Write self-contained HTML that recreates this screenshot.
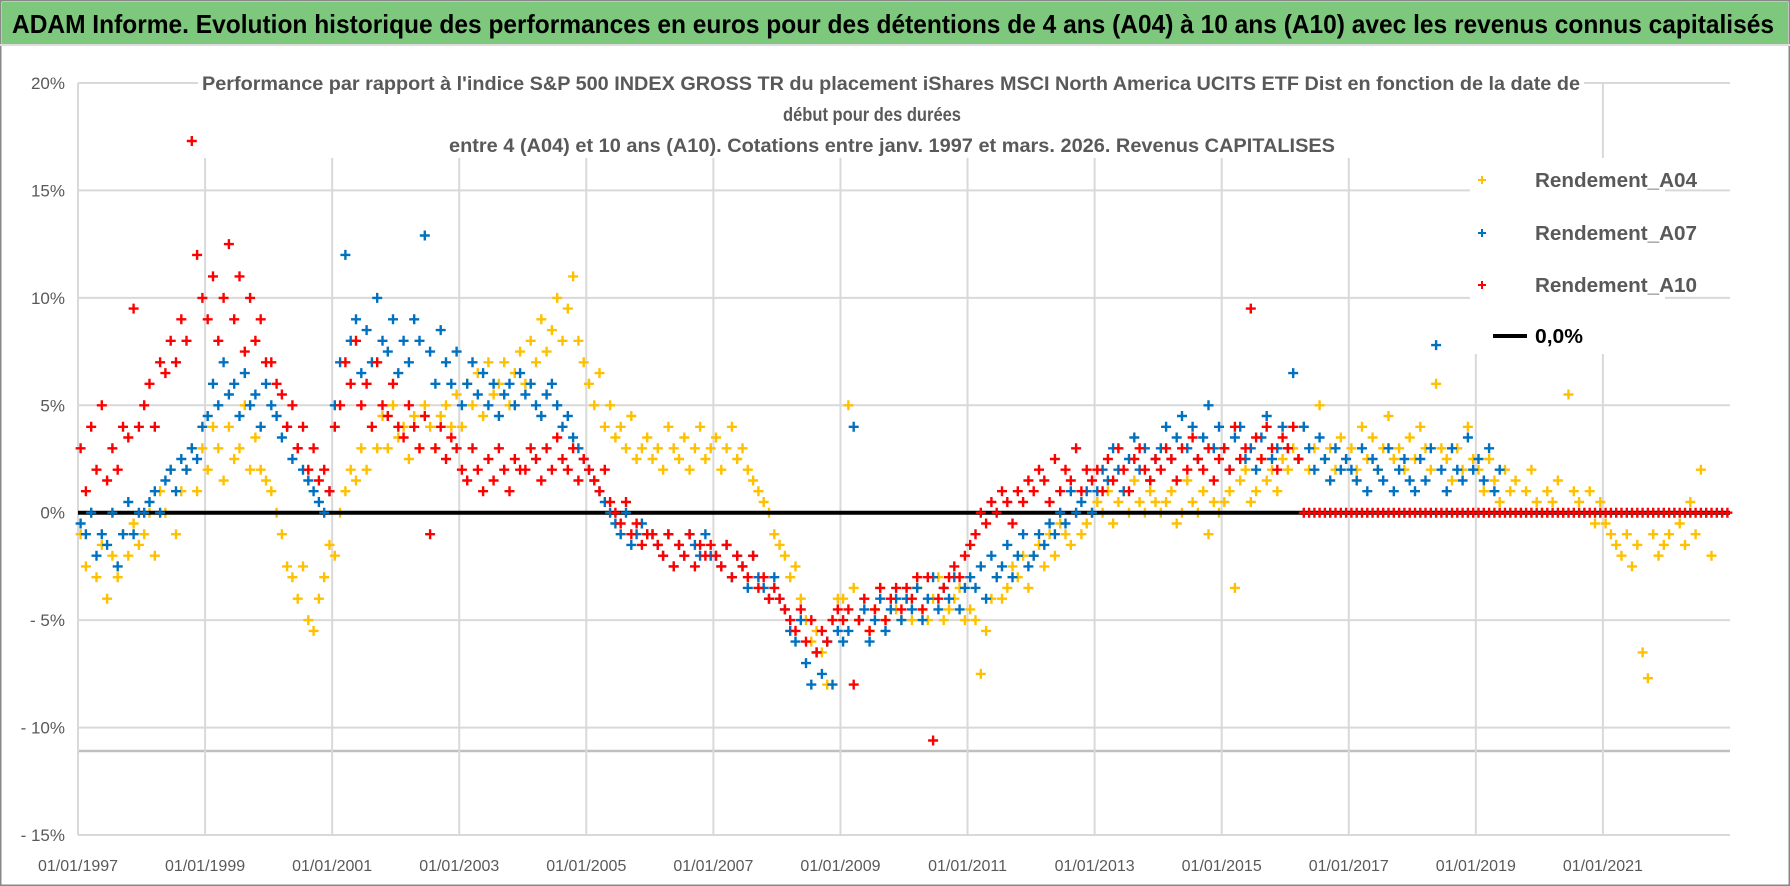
<!DOCTYPE html>
<html><head><meta charset="utf-8"><style>
html,body{margin:0;padding:0;background:#fff;}
svg{display:block;font-family:"Liberation Sans Narrow","Liberation Sans",sans-serif;}
</style></head><body>
<svg id="chart" width="1790" height="886" viewBox="0 0 1790 886" xmlns="http://www.w3.org/2000/svg">
<rect x="0" y="0" width="1790" height="886" fill="#fff" stroke="#888" stroke-width="3"/>
<rect x="2" y="2" width="1786" height="42" fill="#7DC87D"/>
<text x="12" y="33" font-size="26" font-weight="bold" fill="#000" textLength="1762" lengthAdjust="spacingAndGlyphs">ADAM Informe. Evolution historique des performances en euros pour des détentions de 4 ans (A04) à 10 ans (A10) avec les revenus connus capitalisés</text>
<line x1="0" y1="45" x2="1790" y2="45" stroke="#ddd" stroke-width="2"/>
<g id="grid"></g>
<g id="axes"></g>
<g id="series"></g>
<g fill="#595959" font-weight="bold" font-size="19">
<rect x="198" y="64" width="1386" height="94" fill="#fff"/>
<text x="202" y="90" textLength="1378" lengthAdjust="spacingAndGlyphs">Performance par rapport à l'indice S&amp;P 500 INDEX GROSS TR  du placement iShares MSCI North America UCITS ETF Dist en fonction de la date de</text>
<text x="783" y="121" textLength="178" lengthAdjust="spacingAndGlyphs">début pour des durées</text>
<text x="449" y="152" textLength="886" lengthAdjust="spacingAndGlyphs">entre 4 (A04) et 10 ans (A10). Cotations entre janv. 1997 et mars. 2026. Revenus CAPITALISES</text>
</g>
<g font-size="20" font-weight="bold" fill="#595959">
<rect x="1470" y="158" width="195" height="196" fill="#fff"/>
<g><path d="M1478 180h8M1482 176v8" stroke="#FFC000" stroke-width="2"/><text x="1535" y="187" textLength="162" lengthAdjust="spacingAndGlyphs">Rendement_A04</text></g>
<g><path d="M1478 233h8M1482 229v8" stroke="#0070C0" stroke-width="2"/><text x="1535" y="240" textLength="162" lengthAdjust="spacingAndGlyphs">Rendement_A07</text></g>
<g><path d="M1478 285h8M1482 281v8" stroke="#FF0000" stroke-width="2"/><text x="1535" y="292" textLength="162" lengthAdjust="spacingAndGlyphs">Rendement_A10</text></g>
<g><line x1="1493" y1="336" x2="1527" y2="336" stroke="#000" stroke-width="4"/><text x="1535" y="343" fill="#000" textLength="48" lengthAdjust="spacingAndGlyphs">0,0%</text></g>
</g>
</svg>
<script>
const yTicks = [20, 15, 10, 5, 0, -5, -10, -15];
const yTickLabels = ["20%", "15%", "10%", "5%", "0%", "- 5%", "- 10%", "- 15%"];
const xTickYears = [1997, 1999, 2001, 2003, 2005, 2007, 2009, 2011, 2013, 2015, 2017, 2019, 2021];
const xTickLabels = ["01/01/1997","01/01/1999","01/01/2001","01/01/2003","01/01/2005","01/01/2007","01/01/2009","01/01/2011","01/01/2013","01/01/2015","01/01/2017","01/01/2019","01/01/2021"];
const seriesStartYear = 1997;
const rendementA04 = [
-1,-2.5,0,-3,-1.5,-4,-2,-3,-1,-2,-0.5,-1.5,
-1,0,-2,1,0,2,-1,1,2,3,1,3,
2,4,3,1.5,4,2.5,3,5,2,3.5,2,1.5,
1,0,-1,-2.5,-3,-4,-2.5,-5,-5.5,-4,-3,-1.5,
-2,0,1,2,1.5,3,2,4,3,4.5,3,5,
3.5,4,2.5,4.5,3,5,4,3,4.5,5,4,5.5,
4,6,5,6.5,4.5,7,5.5,6,7,5,6.5,7.5,
6,8,7,9,7.5,8.5,10,8,9.5,11,8,7,
6,5,6.5,4,5,3.5,4,3,4.5,2.5,3,3.5,
2.5,3,2,4,3,2.5,3.5,2,3,4,2.5,3,
3.5,2,3,4,2.5,3,2,1.5,1,0.5,0,-1,
-1.5,-2,-3,-2.5,-4,-5,-6,-5.5,-6.5,-8,-5,-4,
-4,5,-3.5,-5,-4,-5.5,-4.5,-3.5,-5,-4,-4.5,-5,
-4,-5,-3.5,-4.5,-5,-4,-3,-5,-4.5,-4,-3.5,-5,
-4.5,-5,-7.5,-5.5,-4,-3,-4,-3.5,-2.5,-3,-2,-3.5,
-2,-1.5,-2.5,-1,-2,-0.5,-1,-1.5,0,-1,-0.5,0,
0.5,0,1,-0.5,0.5,1,0,1.5,0.5,0,1,0.5,
0,0.5,1,-0.5,0,1.5,0.5,0,1,-1,0.5,0,
0.5,1,-3.5,1.5,2,0.5,1,2.5,1.5,2,1,2.5,
2,3,2.5,4,2,3,5,2.5,3,2,3.5,2.5,
3,2,4,2.5,3.5,2,3,4.5,2.5,3,2,3.5,
2.5,4,3,2,6,3,2.5,1.5,3,2,4,2.5,
2,1,2.5,1.5,0.5,2,1,1.5,0,1,2,0.5,
0,1,0.5,1.5,0,5.5,1,0.5,0,1,-0.5,0.5,
-0.5,-1,-1.5,-2,-1,-2.5,-1.5,-6.5,-7.7,-1,-2,-1.5,
-1,0,-0.5,-1.5,0.5,-1,2,0,-2];
const rendementA07 = [
-0.5,-1,0,-2,-1,-1.5,0,-2.5,-1,0.5,-1,0,
0,0.5,1,0,1.5,2,1,2.5,2,3,2.5,4,
4.5,6,5,7,5.5,6,4.5,6.5,5,5.5,4,6,
5,4.5,3.5,4,2.5,3,2,1.5,1,0.5,0,1,
5,7,12,8,9,6.5,8.5,7,10,8,7.5,9,
6.5,8,7,9,8,12.9,7.5,6,8.5,7,6,7.5,
5,6,7,5.5,6.5,5,6,4.5,5.5,6,5,6.5,
5.5,6,5,4.5,5.5,6,5,4,4.5,3.5,3,2.5,
2,1.5,1,0.5,0,-0.5,-1,0,-1.5,-1,-0.5,-1,
-1,-1.5,-2,-1,-2.5,-1.5,-2,-1,-1.5,-2,-1,-2,
-2,-2.5,-1.5,-3,-2,-2.5,-3.5,-2,-3,-3.5,-4,-3,
-4,-4.5,-5.5,-6,-5,-7,-8,-6.5,-7.5,-6,-8,-5.5,
-6,-5.5,4,-5,-4.5,-6,-5,-4,-5.5,-4.5,-4,-5,
-4,-4.5,-3.5,-5,-4,-3,-4.5,-3.5,-4,-3,-4.5,-3.5,
-3,-3.5,-2.5,-4,-2,-3,-2.5,-1.5,-3,-2,-1,-2.5,
-2,-1,-1.5,-0.5,-1,0,-0.5,1,0,0.5,1,0,
1,2,1.5,3,2,1,2.5,3.5,2,3,1.5,2.5,
3,4,2.5,3.5,4.5,3,4,2.5,3.5,5,3,4,
3,2,3.5,4,2.5,3,2,3.5,4.5,2.5,3,4,
3,6.5,2.5,4,3,2,3.5,2.5,1.5,3,2,2.5,
2,1.5,3,1,2.5,2,1.5,3,1,2,2.5,1.5,
1,2.5,1.5,3,7.8,2,1,3,2,1.5,3.5,2,
2.5,1.5,3,1,2];
const rendementA10 = [
3,1,4,2,5,1.5,3,2,4,3.5,9.5,4,
5,6,4,7,6.5,8,7,9,8,17.3,12,10,
9,11,8,10,12.5,9,11,7.5,10,8,9,7,
7,6,5.5,4,5,3,4,2,3,1.5,2,1,
4,5,7,6,8,5,6,4,7,5,4.5,6,
4,3.5,5,4,3,4.5,-1,3,4,2.5,3.5,3,
2,1.5,3,2,1,2.5,1.5,3,2,1,2.5,2,
2,3,2.5,1.5,3,2,3.5,2.5,2,3,1.5,2.5,
2,1.5,1,2,0.5,0,-0.5,0.5,-1,-0.5,-1.5,-1,
-1,-1.5,-2,-1,-2.5,-1.5,-2,-1,-2.5,-1.5,-2,-1.5,
-2,-2.5,-1.5,-3,-2,-2.5,-3,-2,-3.5,-3,-4,-3.5,
-4,-4.5,-5,-5.5,-4.5,-6,-5,-6.5,-5.5,-6,-5,-4.5,
-5,-4.5,-8,-5,-4,-5.5,-4.5,-3.5,-5,-4,-3.5,-4.5,
-3.5,-4,-3,-4.5,-3,-10.6,-4,-3.5,-3,-2.5,-3,-2,
-1.5,-1,0,-0.5,0.5,0,1,0.5,-0.5,1,0.5,1.5,
1,2,1.5,0.5,2.5,1,2,1.5,3,1,2,1.5,
2,1,2.5,1.5,3,2,1,2.5,3,2,1.5,2.5,
2,3,2.5,1.5,3,2,3.5,2.5,2,3,1.5,2.5,
3,2,4,2.5,3,9.5,3.5,2.5,4,3,2,3.5,
3,4,2.5,0,0,0,0,0,0,0,0,0,
0,0,0,0,0,0,0,0,0,0,0,0,
0,0,0,0,0,0,0,0,0,0,0,0,
0,0,0,0,0,0,0,0,0,0,0,0,
0,0,0,0,0,0,0,0,0,0,0,0,
0,0,0,0,0,0,0,0,0,0,0,0,
0,0,0,0,0,0,0,0,0,0,0,0];

const NS = "http://www.w3.org/2000/svg";
const X0 = 78, X1 = 1730, YEAR0 = 1997, YEAR1 = 2023;
const Y_TOP = 83, Y_BOT = 835, V_TOP = 20, V_BOT = -15;
function xScale(year){ return X0 + (year - YEAR0) / (YEAR1 - YEAR0) * (X1 - X0); }
function yScale(v){ return Y_TOP + (V_TOP - v) / (V_TOP - V_BOT) * (Y_BOT - Y_TOP); }
function mk(tag, attrs, parent){ const e = document.createElementNS(NS, tag); for (const k in attrs) e.setAttribute(k, attrs[k]); parent.appendChild(e); return e; }

const grid = document.getElementById('grid');
const axes = document.getElementById('axes');
yTicks.forEach((t, i) => {
  const y = yScale(t);
  const l = mk('line', {x1: X0, x2: X1, y1: y, y2: y, stroke: '#d9d9d9', 'stroke-width': 2}, grid);
  
  
  const tx = mk('text', {x: 65, y: y + 6, 'text-anchor': 'end', 'font-size': 17, fill: '#595959'}, axes);
  tx.textContent = yTickLabels[i];
  
  
});
const extra = mk('line', {x1: X0, x2: X1, y1: 751, y2: 751, stroke: '#bfbfbf', 'stroke-width': 2.5}, grid);


xTickYears.forEach((yr, i) => {
  const x = xScale(yr);
  const l = mk('line', {x1: x, x2: x, y1: Y_TOP, y2: Y_BOT, stroke: '#d9d9d9', 'stroke-width': 2}, grid);
  
  
  const tx = mk('text', {x: x, y: 871, 'text-anchor': 'middle', 'font-size': 16, fill: '#595959'}, axes);
  tx.textContent = xTickLabels[i];
  
  
});

const seriesLayer = document.getElementById('series');
function drawSeries(values, color, name){
  const g = mk('g', {stroke: color, 'stroke-width': 2.4, fill: 'none'}, seriesLayer);
  
  
  let d = '';
  values.forEach((v, i) => {
    const x = xScale(seriesStartYear + (i + 0.5) / 12), y = yScale(v);
    d += 'M' + (x - 5).toFixed(1) + ' ' + y.toFixed(1) + 'h10M' + x.toFixed(1) + ' ' + (y - 5).toFixed(1) + 'v10';
  });
  const p = mk('path', {d: d}, g);
  
  
}
drawSeries(rendementA04, '#FFC000', 'series-a04');
const zl = mk('line', {x1: X0, x2: X1, y1: yScale(0), y2: yScale(0), stroke: '#000', 'stroke-width': 4}, seriesLayer);


drawSeries(rendementA07, '#0070C0', 'series-a07');
drawSeries(rendementA10, '#FF0000', 'series-a10');
</script>
</body></html>
